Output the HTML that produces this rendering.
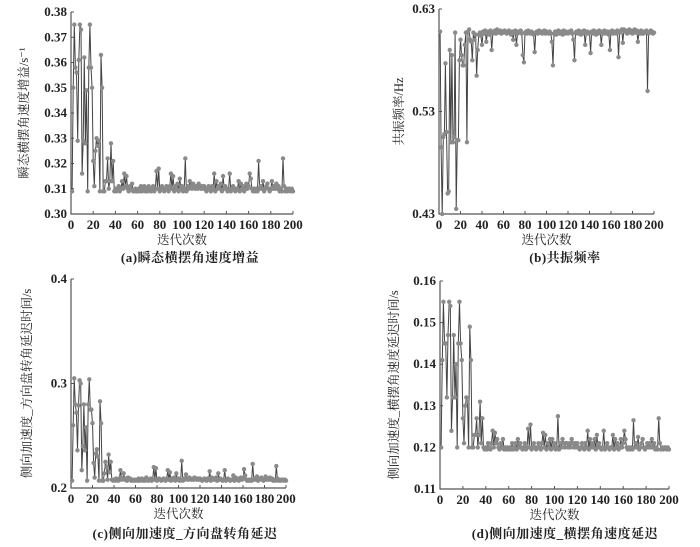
<!DOCTYPE html>
<html><head><meta charset="utf-8"><style>
html,body{margin:0;padding:0;background:#fff;}
svg text{font-family:"Liberation Serif","Noto Serif CJK SC",serif;fill:#222;}
.tk{font-size:13px;font-weight:bold;}
.ttl{font-size:12.5px;}
.cap{font-size:13px;font-weight:bold;letter-spacing:0.5px;}
</style></head><body>
<svg id="fig" width="700" height="542" viewBox="0 0 700 542" xmlns="http://www.w3.org/2000/svg"></svg>
<script>
const xTicks=[0,20,40,60,80,100,120,140,160,180,200];
const aTicks=[0.30,0.31,0.32,0.33,0.34,0.35,0.36,0.37,0.38];
const bTicks=[0.43,0.53,0.63];
const cTicks=[0.2,0.3,0.4];
const dTicks=[0.11,0.12,0.13,0.14,0.15,0.16];
const aVals=[0.309,0.35,0.375,0.358,0.356,0.329,0.361,0.375,0.373,0.316,0.329,0.362,0.328,0.349,0.309,0.358,0.375,0.358,0.350,0.321,0.311,0.325,0.330,0.327,0.329,0.309,0.363,0.350,0.309,0.309,0.313,0.313,0.322,0.310,0.313,0.328,0.313,0.321,
0.309,0.310,0.309,0.310,0.311,0.309,0.310,0.313,0.310,0.316,0.311,0.315,
0.310,0.309,0.311,0.310,0.312,0.309,0.309,0.310,0.309,0.309,
0.310,0.309,0.311,0.309,0.310,0.311,0.309,0.310,0.309,0.311,
0.310,0.309,0.310,0.311,0.309,0.310,0.317,0.310,0.318,0.309,
0.310,0.311,0.310,0.309,0.310,0.311,0.310,0.309,0.311,0.316,
0.310,0.315,0.309,0.311,0.310,0.312,0.309,0.314,0.310,0.311,
0.309,0.310,0.322,0.309,0.311,0.310,0.313,0.311,0.310,0.312,
0.311,0.310,0.311,0.310,0.312,0.311,0.310,0.311,0.310,0.311,
0.310,0.309,0.310,0.311,0.310,0.309,0.311,0.310,0.316,0.309,
0.313,0.310,0.311,0.310,0.312,0.309,0.315,0.310,0.311,0.310,
0.309,0.310,0.316,0.309,0.310,0.311,0.310,0.309,0.310,0.310,
0.313,0.309,0.312,0.310,0.311,0.309,0.310,0.312,0.310,0.311,
0.316,0.314,0.310,0.309,0.310,0.309,0.310,0.309,0.321,0.310,
0.311,0.310,0.313,0.309,0.310,0.311,0.312,0.310,0.309,0.310,
0.313,0.310,0.311,0.310,0.312,0.310,0.311,0.309,0.310,0.309,
0.322,0.311,0.309,0.310,0.309,0.310,0.310,0.309,0.310,0.309];
const bVals=[0.608,0.495,0.43,0.505,0.508,0.577,0.51,0.45,0.452,0.59,0.5,0.585,0.5,0.505,0.607,0.435,0.502,0.502,0.58,0.60,0.585,0.575,0.575,0.595,0.607,0.5,0.608,0.61,0.60,0.598,0.58,0.607,0.6,0.605,0.565,0.59,0.605,
0.607,0.604,0.595,0.608,0.606,0.609,0.598,0.607,0.608,0.605,0.609,0.590,0.606,
0.607,0.609,0.606,0.610,0.608,0.607,0.609,0.606,0.608,0.607,
0.609,0.607,0.606,0.608,0.609,0.607,0.605,0.608,0.600,0.607,
0.609,0.595,0.606,0.608,0.607,0.609,0.606,0.585,0.578,0.607,
0.608,0.606,0.609,0.607,0.606,0.608,0.607,0.605,0.588,0.607,
0.608,0.606,0.609,0.607,0.608,0.606,0.607,0.609,0.606,0.608,
0.607,0.606,0.608,0.606,0.598,0.575,0.606,0.608,0.605,0.607,
0.609,0.606,0.608,0.607,0.605,0.609,0.606,0.608,0.607,0.606,
0.608,0.607,0.609,0.606,0.600,0.580,0.607,0.608,0.606,0.609,
0.607,0.605,0.608,0.606,0.609,0.595,0.607,0.608,0.606,0.607,
0.587,0.608,0.606,0.609,0.607,0.605,0.608,0.606,0.609,0.607,
0.595,0.608,0.606,0.609,0.607,0.606,0.608,0.605,0.590,0.608,
0.609,0.606,0.607,0.608,0.606,0.609,0.583,0.607,0.608,0.610,
0.597,0.610,0.608,0.609,0.606,0.608,0.610,0.607,0.609,0.606,
0.608,0.610,0.607,0.609,0.598,0.608,0.606,0.609,0.606,0.606,
0.608,0.607,0.609,0.550,0.606,0.607,0.609,0.608,0.606,0.607];
const cVals=[0.207,0.26,0.305,0.28,0.272,0.236,0.279,0.303,0.30,0.217,0.24,0.28,0.236,0.258,0.207,0.28,0.304,0.275,0.275,0.262,0.224,0.21,0.233,0.237,0.23,0.207,0.283,0.262,0.207,0.207,0.214,0.225,0.22,0.208,0.232,0.215,0.225,0.208,
0.207,0.208,0.207,0.209,0.208,0.207,0.209,0.217,0.208,0.209,0.214,0.208,
0.209,0.207,0.210,0.208,0.209,0.207,0.208,0.207,0.208,0.207,
0.208,0.207,0.209,0.207,0.208,0.209,0.207,0.208,0.207,0.210,
0.208,0.207,0.208,0.209,0.207,0.208,0.220,0.208,0.219,0.207,
0.208,0.209,0.208,0.207,0.208,0.209,0.208,0.207,0.209,0.217,
0.208,0.215,0.207,0.209,0.208,0.210,0.207,0.214,0.208,0.209,
0.207,0.208,0.226,0.207,0.209,0.208,0.213,0.209,0.208,0.210,
0.209,0.208,0.209,0.208,0.210,0.209,0.208,0.209,0.208,0.209,
0.208,0.207,0.208,0.209,0.208,0.207,0.209,0.208,0.216,0.207,
0.210,0.208,0.209,0.208,0.210,0.207,0.214,0.208,0.209,0.208,
0.207,0.208,0.217,0.207,0.208,0.209,0.208,0.207,0.208,0.208,
0.212,0.207,0.210,0.208,0.209,0.207,0.208,0.210,0.208,0.209,
0.218,0.212,0.208,0.207,0.208,0.207,0.208,0.207,0.223,0.208,
0.209,0.208,0.211,0.207,0.208,0.209,0.210,0.208,0.207,0.208,
0.211,0.208,0.209,0.208,0.210,0.208,0.209,0.207,0.208,0.207,
0.221,0.209,0.207,0.208,0.207,0.208,0.208,0.207,0.208,0.207];
const dVals=[0.12,0.141,0.155,0.145,0.145,0.132,0.147,0.155,0.154,0.124,0.132,0.147,0.132,0.14,0.12,0.145,0.155,0.145,0.141,0.127,0.121,0.13,0.132,0.131,0.12,0.149,0.141,0.12,0.12,0.123,0.123,0.127,0.12,0.123,0.131,0.121,0.127,0.12,
0.1195,0.120,0.1195,0.121,0.120,0.1195,0.121,0.124,0.120,0.1235,0.121,0.122,
0.120,0.1195,0.121,0.120,0.122,0.1195,0.120,0.1195,0.120,0.1195,
0.120,0.1195,0.121,0.1195,0.120,0.121,0.1195,0.122,0.120,0.121,
0.120,0.1195,0.120,0.121,0.1195,0.120,0.1245,0.120,0.1255,0.1195,
0.120,0.121,0.120,0.1195,0.120,0.121,0.120,0.1195,0.121,0.1235,
0.120,0.123,0.1195,0.121,0.120,0.122,0.1195,0.122,0.120,0.121,
0.1195,0.120,0.1275,0.1195,0.121,0.120,0.122,0.121,0.120,0.121,
0.121,0.120,0.121,0.120,0.122,0.121,0.120,0.121,0.120,0.121,
0.120,0.1195,0.120,0.121,0.120,0.1195,0.121,0.120,0.124,0.1195,
0.122,0.120,0.121,0.120,0.122,0.1195,0.123,0.120,0.121,0.120,
0.1195,0.120,0.124,0.1195,0.120,0.121,0.120,0.1195,0.120,0.120,
0.123,0.1195,0.122,0.120,0.121,0.1195,0.120,0.122,0.120,0.121,
0.124,0.122,0.120,0.1195,0.120,0.1195,0.120,0.1195,0.1265,0.120,
0.121,0.120,0.1225,0.1195,0.120,0.121,0.122,0.120,0.1195,0.120,
0.121,0.120,0.121,0.120,0.122,0.120,0.121,0.1195,0.120,0.1195,
0.127,0.121,0.1195,0.120,0.1195,0.120,0.120,0.1195,0.120,0.1195];

const NS='http://www.w3.org/2000/svg';
const svg=document.getElementById('fig');
function mk(tag,attrs,parent){const e=document.createElementNS(NS,tag);for(const k in attrs)e.setAttribute(k,attrs[k]);(parent||svg).appendChild(e);return e;}

function panel(id,vals,yT,dec,cfg){
  const g=mk('g',{});
  
  
  const ymin=yT[0],ymax=yT[yT.length-1];
  const xs=v=>cfg.x0+(v/200)*(cfg.x1-cfg.x0);
  const ys=v=>cfg.yb-(v-ymin)/(ymax-ymin)*(cfg.yb-cfg.yt);
  const ax=mk('path',{d:`M${cfg.x0},${cfg.yt}V${cfg.yb}H${cfg.x1}`,fill:'none',stroke:'#555','stroke-width':1.2},g);
  
  
  yT.forEach(t=>{
    const y=ys(t);
    mk('line',{x1:cfg.x0,x2:cfg.x0+3,y1:y,y2:y,stroke:'#555'},g);
    const tx=mk('text',{x:cfg.x0-4,y:y+4,'text-anchor':'end',class:'tk'},g);
    tx.textContent=t.toFixed(dec);
    
    
  });
  xTicks.forEach(t=>{
    const x=xs(t);
    mk('line',{x1:x,x2:x,y1:cfg.yb,y2:cfg.yb-3,stroke:'#555'},g);
    const tx=mk('text',{x:x,y:cfg.yb+15,'text-anchor':'middle',class:'tk'},g);
    tx.textContent=t;
    
    
  });
  const pts=vals.map((v,i)=>xs(i+1).toFixed(1)+','+ys(v).toFixed(1)).join(' ');
  const ln=mk('polyline',{points:pts,fill:'none',stroke:'#444','stroke-width':1},g);
  
  
  vals.forEach((v,i)=>{
    const c=mk('circle',{cx:xs(i+1),cy:ys(v),r:2.2,fill:'#8a8a8a'},g);
    
    
  });
  const xt=mk('text',{x:(cfg.x0+cfg.x1)/2,y:cfg.yb+30,'text-anchor':'middle',class:'ttl'},g);
  xt.textContent='迭代次数';
  
  
  const cy=(cfg.yt+cfg.yb)/2;
  const yt=mk('text',{x:cfg.ytx,y:cy,'text-anchor':'middle',class:'ttl',transform:`rotate(-90 ${cfg.ytx} ${cy})`},g);
  yt.textContent=cfg.ytitle;
  
  
  const cp=mk('text',{x:cfg.capx,y:cfg.capy,'text-anchor':'middle',class:'cap'},g);
  cp.textContent=cfg.cap;
  
  
}
panel('panel-a',aVals,aTicks,2,{x0:71,x1:293,yt:12,yb:214,ytx:28,ytitle:'瞬态横摆角速度增益/s⁻¹',cap:'(a)瞬态横摆角速度增益',capx:190,capy:262});
panel('panel-b',bVals,bTicks,2,{x0:439,x1:654,yt:9,yb:214,ytx:403,ytitle:'共振频率/Hz',cap:'(b)共振频率',capx:565,capy:262});
panel('panel-c',cVals,cTicks,1,{x0:71,x1:286,yt:279,yb:488,ytx:31,ytitle:'侧向加速度_方向盘转角延迟时间/s',cap:'(c)侧向加速度_方向盘转角延迟',capx:185,capy:538});
panel('panel-d',dVals,dTicks,2,{x0:440,x1:669,yt:281,yb:489,ytx:398,ytitle:'侧向加速度_横摆角速度延迟时间/s',cap:'(d)侧向加速度_横摆角速度延迟',capx:565,capy:538});
</script>
</body></html>
